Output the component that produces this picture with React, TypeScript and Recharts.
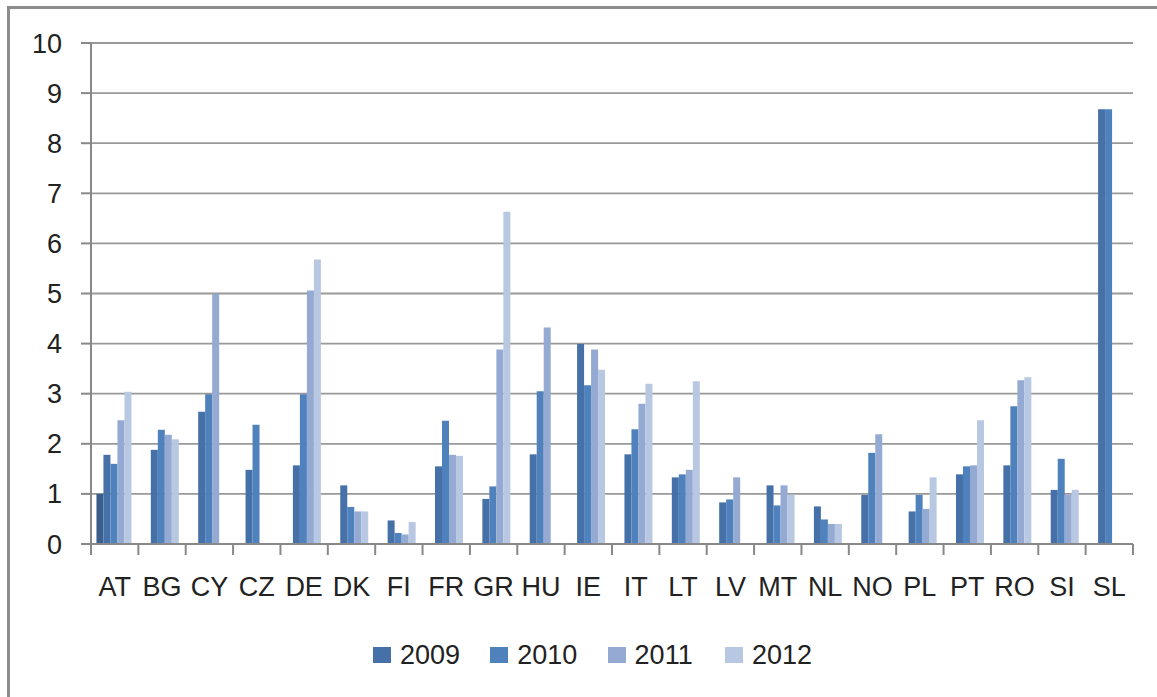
import React from 'react';
import { BarChart, Bar, XAxis, YAxis, CartesianGrid, Legend } from 'recharts';

const categories = ['AT','BG','CY','CZ','DE','DK','FI','FR','GR','HU','IE','IT','LT','LV','MT','NL','NO','PL','PT','RO','SI','SL'];
const seriesExtra: (number | null)[] = [1.0,null,null,null,null,null,null,null,null,null,null,null,null,null,null,null,null,null,null,null,null,null];
const values2009: (number | null)[] = [1.78,1.88,2.64,1.48,1.57,1.17,0.47,1.55,0.90,1.79,3.99,1.79,1.33,0.83,1.17,0.75,0.98,0.65,1.39,1.57,1.08,8.68];
const values2010: (number | null)[] = [1.60,2.28,2.99,2.38,2.99,0.74,0.22,2.46,1.15,3.05,3.17,2.29,1.39,0.89,0.77,0.49,1.82,0.98,1.55,2.75,1.70,8.68];
const values2011: (number | null)[] = [2.47,2.18,4.99,null,5.06,0.65,0.19,1.78,3.88,4.32,3.88,2.80,1.48,1.33,1.17,0.40,2.19,0.70,1.57,3.27,0.98,null];
const values2012: (number | null)[] = [3.04,2.09,null,null,5.68,0.65,0.44,1.76,6.63,null,3.48,3.20,3.25,null,0.98,0.40,null,1.33,2.47,3.33,1.08,null];
const yTicks = [0,1,2,3,4,5,6,7,8,9,10];

const data = categories.map((cat, i) => ({
  cat,
  extra: seriesExtra[i],
  y2009: values2009[i],
  y2010: values2010[i],
  y2011: values2011[i],
  y2012: values2012[i],
}));

const W = 1157;
const H = 697;
const PLOT_LEFT = 91;
const PLOT_RIGHT = 1133;
const BAND = (PLOT_RIGHT - PLOT_LEFT) / categories.length;
const FONT = 'Liberation Sans, Arial, sans-serif';
const TEXT = '#222';
const AXIS = '#888';

const XTick = (props: any) => {
  const { x, y, payload, index } = props;
  const half = BAND / 2;
  return (
    <g>
      <line x1={x - half} x2={x - half} y1={y} y2={y + 11} stroke={AXIS} strokeWidth={2} />
      {index === categories.length - 1 && (
        <line x1={x + half} x2={x + half} y1={y} y2={y + 11} stroke={AXIS} strokeWidth={2} />
      )}
      <text x={x} y={y + 33} dy="0.71em" textAnchor="middle" fontSize={27} fontFamily={FONT} fill={TEXT}>
        {payload.value}
      </text>
    </g>
  );
};

const LegendContent = (props: any) => {
  const items = (props.payload || []).filter((p: any) => p.type !== 'none');
  return (
    <div style={{ display: 'flex', height: 30, alignItems: 'center' }}>
      {items.map((p: any) => (
        <div key={p.value} style={{ display: 'flex', alignItems: 'center', width: 117.3, height: 30 }}>
          <span style={{ display: 'inline-block', width: 18, height: 16, background: p.color, marginRight: 9 }} />
          <span style={{ fontSize: 27, lineHeight: '30px', fontFamily: FONT, color: TEXT }}>{p.value}</span>
        </div>
      ))}
    </div>
  );
};

export default function App() {
  return (
    <div style={{ position: 'fixed', left: 0, top: 0, width: W, height: H, overflow: 'hidden', background: '#fff' }}>
      <div style={{ position: 'absolute', left: 7, top: 6, width: W + 20, height: H + 20, borderLeft: '3px solid #8c8c8c', borderTop: '3px solid #8c8c8c', boxSizing: 'border-box' }} />
      <div style={{ position: 'absolute', left: 0, top: 0 }}>
        <BarChart
          width={W}
          height={H}
          data={data}
          margin={{ top: 43, right: W - PLOT_RIGHT, bottom: 63, left: 0 }}
          barCategoryGap="11.5%"
          barGap={0}
        >
          <CartesianGrid vertical={false} stroke="#999" strokeWidth={1.8} />
          <XAxis
            dataKey="cat"
            height={60}
            tickLine={false}
            tickSize={0}
            tickMargin={0}
            axisLine={{ stroke: AXIS, strokeWidth: 2 }}
            tick={<XTick />}
            interval={0}
          />
          <YAxis
            width={PLOT_LEFT}
            domain={[0, 10]}
            ticks={yTicks}
            interval={0}
            tickSize={10}
            tickMargin={19}
            axisLine={{ stroke: AXIS, strokeWidth: 2 }}
            tickLine={{ stroke: AXIS, strokeWidth: 2 }}
            tick={{ fontSize: 27, fontFamily: FONT, fill: TEXT }}
          />
          <Legend
            verticalAlign="bottom"
            content={<LegendContent />}
            wrapperStyle={{ position: 'absolute', top: 640, bottom: 'auto', left: 373, width: 'auto', height: 30 }}
          />
          <Bar dataKey="extra" name="extra" fill="#3B5E8C" legendType="none" isAnimationActive={false} />
          <Bar dataKey="y2009" name="2009" fill="#4571A8" isAnimationActive={false} />
          <Bar dataKey="y2010" name="2010" fill="#4F81BD" isAnimationActive={false} />
          <Bar dataKey="y2011" name="2011" fill="#94AAD2" isAnimationActive={false} />
          <Bar dataKey="y2012" name="2012" fill="#B9C8E2" isAnimationActive={false} />
        </BarChart>
      </div>
    </div>
  );
}
